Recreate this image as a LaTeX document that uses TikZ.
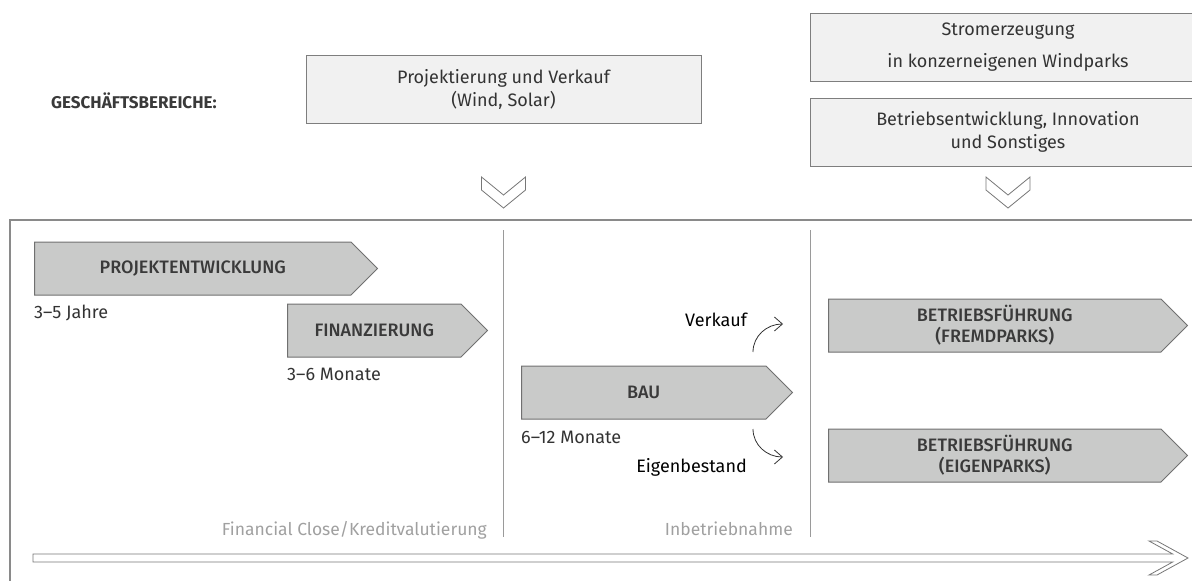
\documentclass[tikz,border=0pt]{standalone}
\usepackage{fontspec}
\setmainfont{Fira Sans}
\newfontfamily\stagefont{Fira Sans Medium}
\usetikzlibrary{arrows.meta,positioning,shapes.symbols,calc}

\definecolor{boxfill}{HTML}{F1F1F1}
\definecolor{boxline}{HTML}{7E7E7E}
\definecolor{stagefill}{HTML}{C9CAC9}
\definecolor{stageline}{HTML}{707070}
\definecolor{stagetext}{HTML}{3A3A3A}
\definecolor{textdark}{HTML}{333333}
\definecolor{miletext}{HTML}{A0A0A0}
\definecolor{frameline}{HTML}{8A8A8A}
\definecolor{divline}{HTML}{9A9A9A}
\definecolor{chevline}{HTML}{777777}

\begin{document}
\begin{tikzpicture}[x=1pt, y=-1pt,
    box/.style={draw=boxline, line width=1pt, fill=boxfill, align=center, minimum width=396pt, minimum height=68pt, inner sep=0pt, text=textdark, font=\fontsize{18}{23}\selectfont},
    stage/.style={draw=stageline, line width=1pt, fill=stagefill, shape=signal, signal to=east, signal pointer angle=90, minimum height=53pt, inner sep=0pt, anchor=west, align=center, text=stagetext, font=\fontsize{18}{21}\stagefont},
    dur/.style={anchor=base west, inner sep=0pt, text=textdark, font=\fontsize{18}{20}\selectfont},
    mile/.style={anchor=base east, inner sep=0pt, text=miletext, font=\fontsize{17.5}{20}\selectfont},
    chev/.style={draw=chevline, line width=0.8pt, fill=white},
    curve/.style={draw=textdark, line width=0.8pt, -{Straight Barb[length=8pt,width=14pt]}},
    divider/.style={draw=divline, line width=1pt}
]
\useasboundingbox (0,0) rectangle (1192,581);
\clip (0,0) rectangle (1192,581);

% business areas
\node[anchor=base west, inner sep=0pt, text=stagetext, font=\fontsize{17}{20}\selectfont\bfseries] (areas) at (51,108) {GESCHÄFTSBEREICHE:};
\node[box, minimum width=395pt] (verkauf) at (503.5,89) {Projektierung und Verkauf\\(Wind, Solar)};
\node[box] (strom) at (1008,47) {Stromerzeugung\\[9pt]in konzerneigenen Windparks};
\node[box] (betrieb) at (1008,132) {Betriebsentwicklung, Innovation\\und Sonstiges};

\coordinate (chevtop) at (0,177);
\foreach \b in {verkauf,betrieb}
    \draw[chev] ($(\b.south |- chevtop)+(-22,0)$) -- ++(0,13) -- ++(22,18) -- ++(22,-18) -- ++(0,-13) -- ++(-22,18) -- cycle;

% frame and phases
\draw[frameline, line width=1.5pt] (10,600) -- (10,220) -- (1200,220);
\draw[divider] (503,230) -- (503,537);
\draw[divider] (810,230) -- (810,537);

\node[stage, minimum width=343pt] (proj) at (34,268.5) {PROJEKTENTWICKLUNG};
\node[dur] (projdur) at (34,318) {3–5 Jahre};
\node[stage, minimum width=200pt] (fin) at (287,330.5) {FINANZIERUNG};
\node[dur] (findur) at (287,380) {3–6 Monate};
\node[stage, minimum width=271pt] (bau) at (521,392.5) {BAU};
\node[dur] (baudur) at (521,443) {6–12 Monate};

\coordinate (vk0) at (753,352);
\coordinate (vk1) at (783,324);
\coordinate (eb0) at (753,429);
\coordinate (eb1) at (783,457);
\draw[curve] (vk0) to[out=90, in=180] (vk1);
\draw[curve] (eb0) to[out=-90, in=180] (eb1);
\node[anchor=base east, inner sep=0pt, font=\fontsize{18}{20}\selectfont] (vklabel) at (747,326) {Verkauf};
\node[anchor=base east, inner sep=0pt, font=\fontsize{18}{20}\selectfont] (eblabel) at (747,472) {Eigenbestand};

\node[stage, minimum width=359pt] (fremd) at (828,325.5) {BETRIEBSFÜHRUNG\\(FREMDPARKS)};
\node[stage, minimum width=359pt] (eigen) at (828,455.5) {BETRIEBSFÜHRUNG\\(EIGENPARKS)};

\node[mile] (close) at (487,535) {Financial Close/Kreditvalutierung};
\node[mile] (inbetrieb) at (793,535) {Inbetriebnahme};

% time axis
\draw[chev] (33,554) -- (1172.7,554) -- (1149,541) -- (1157,541) -- (1188,558) -- (1157,575) -- (1149,575) -- (1172.7,562) -- (33,562) -- cycle;
\end{tikzpicture}
\end{document}
